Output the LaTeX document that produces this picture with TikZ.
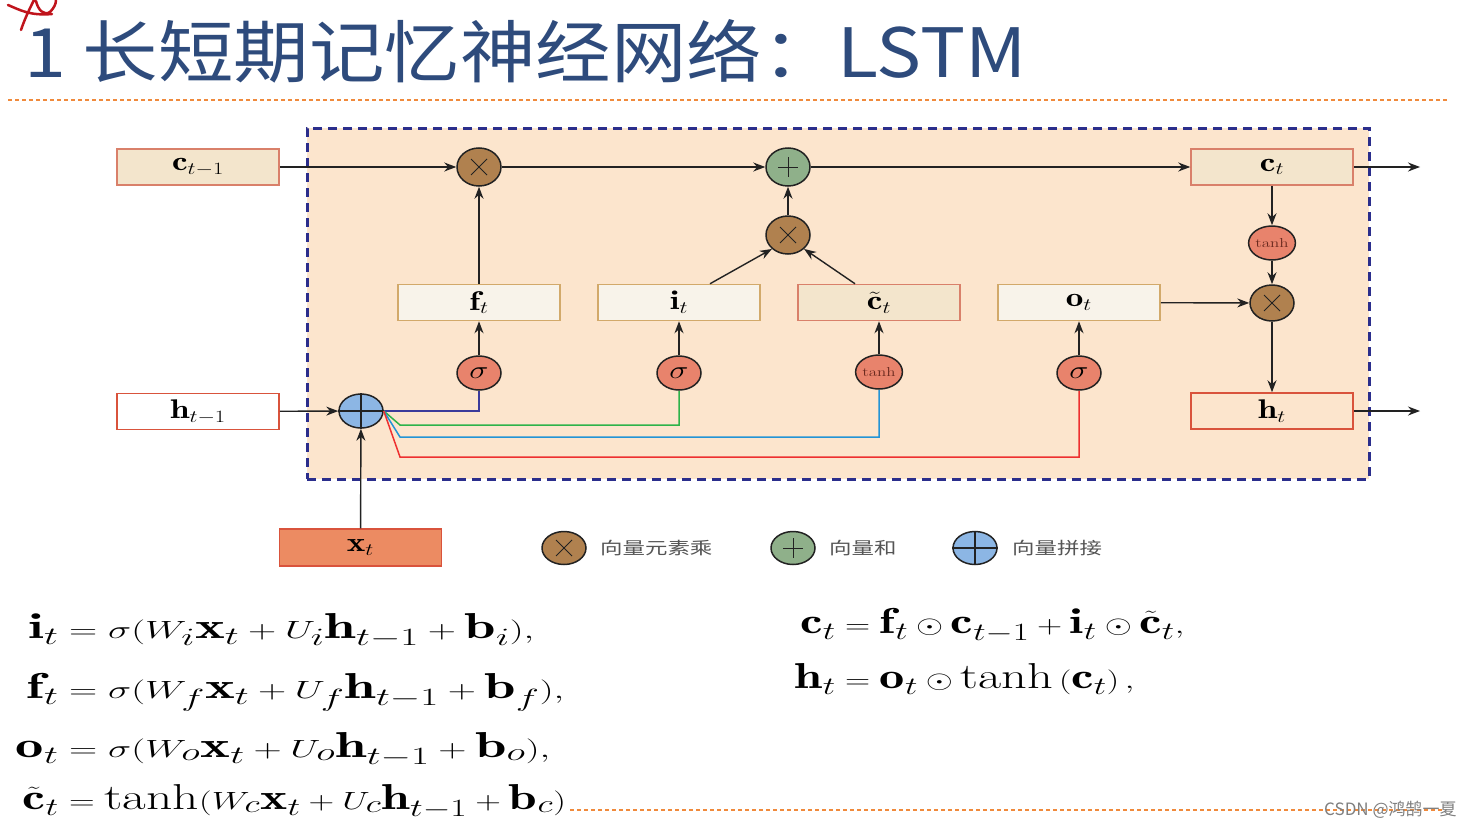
\documentclass[tikz,border=0pt]{standalone}
\usepackage{fontspec}
\usepackage{amsmath}
\usepackage{graphicx}
\newfontfamily\cjk{Noto Sans CJK SC}
\usetikzlibrary{shapes.geometric,arrows.meta}
\definecolor{titleblue}{HTML}{2E4B7C}
\definecolor{dashorange}{HTML}{F08A3C}
\definecolor{peach}{HTML}{FCE5CD}
\definecolor{boxblue}{HTML}{2B2E8C}
\definecolor{cellfill}{HTML}{F3E5CC}
\definecolor{salmonline}{HTML}{D9806A}
\definecolor{gatefill}{HTML}{F8F3EA}
\definecolor{tanline}{HTML}{D2A96A}
\definecolor{redline}{HTML}{D9533C}
\definecolor{xfill}{HTML}{EC8B62}
\definecolor{mulfill}{HTML}{B0814F}
\definecolor{addfill}{HTML}{8FB08A}
\definecolor{catfill}{HTML}{8CB6E4}
\definecolor{actfill}{HTML}{E8836C}
\definecolor{navyline}{HTML}{3B3B9B}
\definecolor{greenline}{HTML}{2DB34A}
\definecolor{cyanline}{HTML}{2394D6}
\definecolor{rline}{HTML}{EE3030}
\definecolor{ink}{HTML}{222222}
\definecolor{legendgray}{HTML}{555555}
\definecolor{tanhtext}{HTML}{6B2A1F}
\definecolor{scribble}{HTML}{C0141C}
\newcommand{\sx}[1]{\scalebox{1.3}[1]{#1}}
\newcommand{\sxl}[1]{\scalebox{1.57}[1]{#1}}
\newcommand{\sxc}[1]{\scalebox{1.43}[1]{#1}}
\newcommand{\sxr}[1]{\scalebox{1.4}[1]{#1}}
\newcommand{\eqfont}{\fontsize{36}{40}\selectfont}
\begin{document}
\begin{tikzpicture}[x=1pt,y=-1pt,
  lbl/.style={font=\fontsize{27}{30}\selectfont},
  cellbox/.style={lbl,draw=salmonline,fill=cellfill,line width=1.5pt,minimum width=162pt,minimum height=36pt,inner sep=0pt},
  gatebox/.style={lbl,draw=tanline,fill=gatefill,line width=1.5pt,minimum width=162pt,minimum height=36pt,inner sep=0pt},
  hbox/.style={lbl,draw=redline,line width=1.5pt,minimum width=162pt,minimum height=36pt,inner sep=0pt},
  op/.style={ellipse,draw=ink,line width=1.5pt,minimum width=44pt,minimum height=38pt,inner sep=0pt},
  act/.style={ellipse,draw=ink,line width=1.5pt,fill=actfill,minimum width=44pt,minimum height=34pt,inner sep=0pt,font=\fontsize{26}{30}\selectfont},
  conn/.style={draw=ink,line width=1.4pt},
  arr/.style={conn,-{Stealth[length=12pt,width=9pt]}},
  sym/.style={draw=ink,line width=1pt},
  eq/.style={font=\eqfont,inner sep=0pt},
  legend/.style={font=\cjk\fontsize{17}{20}\selectfont,text=legendgray,anchor=west,inner sep=0pt}
]
\useasboundingbox (0,0) rectangle (1477,827);
\fill[white] (0,0) rectangle (1477,827);

% title
\node[anchor=base west,inner sep=0pt,text=titleblue,font=\cjk\fontsize{68}{72}\selectfont] (title) at (24,77) {\scalebox{1.11}[1]{1 长短期记忆神经网络：LSTM}};
\draw[scribble,line width=2.5pt,line cap=round] (8,5) .. controls (20,10) and (30,16) .. (52,14)
  (21,30) .. controls (25,18) and (30,8) .. (34,0)
  (36,1) .. controls (38,10) and (44,16) .. (50,12) .. controls (54,8) and (56,4) .. (56,0);

\draw[dashorange,line width=1.2pt,dash pattern=on 4pt off 3pt] (8,100) -- (1447,100);

% main frame
\node[draw=boxblue,fill=peach,line width=3pt,dash pattern=on 9pt off 6pt,minimum width=1062pt,minimum height=351pt,inner sep=0pt] (frame) at (838,303.5) {};

% cell row
\node[cellbox] (cprev) at (198,167) {\sx{$\mathbf{c}_{t-1}$}};
\node[op,fill=mulfill] (m1) at (479,167) {};
\node[op,fill=addfill] (a1) at (788,167) {};
\node[op,fill=mulfill] (m2) at (788,235) {};
\node[cellbox] (ct) at (1272,167) {\sx{$\mathbf{c}_{t}$}};
\node[act,font=\fontsize{13}{15}\selectfont,text=tanhtext] (tc) at (1272,243) {\sx{tanh}};
\node[op,fill=mulfill,minimum height=36pt] (m3) at (1272,303) {};
\node[hbox,fill=peach] (ht) at (1272,411) {\sx{$\mathbf{h}_{t}$}};
\coordinate (cout) at (1420,167);
\coordinate (hout) at (1420,411);

% gates
\node[gatebox] (ft) at (479,302.5) {\sx{$\mathbf{f}_{t}$}};
\node[gatebox] (it) at (679,302.5) {\sx{$\mathbf{i}_{t}$}};
\node[cellbox] (cc) at (879,302.5) {\sx{$\tilde{\mathbf{c}}_{t}$}};
\node[gatebox] (ot) at (1079,302.5) {\sx{$\mathbf{o}_{t}$}};
\node[act] (sf) at (479,373) {\sx{$\sigma$}};
\node[act] (si) at (679,373) {\sx{$\sigma$}};
\node[act,font=\fontsize{13}{15}\selectfont,text=tanhtext] (sc) at (879,372) {\sx{tanh}};
\node[act] (so) at (1079,373) {\sx{$\sigma$}};

% inputs
\node[hbox,fill=white] (hprev) at (198,411.5) {\sx{$\mathbf{h}_{t-1}$}};
\node[op,fill=catfill,minimum height=34pt] (cat) at (361,411) {};
\node[draw=redline,fill=xfill,line width=1.5pt,minimum width=162pt,minimum height=37pt,inner sep=0pt,lbl] (xt) at (360.5,547.5) {\sx{$\mathbf{x}_{t}$}};

% symbols inside operators
\draw[sym] (m1.center) +(-8,-8) -- +(8,8) +(-8,8) -- +(8,-8);
\draw[sym] (m2.center) +(-8,-8) -- +(8,8) +(-8,8) -- +(8,-8);
\draw[sym] (m3.center) +(-8,-8) -- +(8,8) +(-8,8) -- +(8,-8);
\draw[sym] (a1.center) +(-10,0) -- +(10,0) +(0,-10) -- +(0,10);
\draw[sym,line width=1.3pt] (cat.west) -- (cat.east) (cat.north) -- (cat.south);

% connectors
\draw[arr] (cprev) -- (m1);
\draw[arr] (m1) -- (a1);
\draw[arr] (a1) -- (ct);
\draw[arr] (m2) -- (a1);
\draw[arr] (ft) -- (m1);
\draw[arr] (it.north -| 710,0) -- (m2.south west);
\draw[arr] (cc.north -| 855,0) -- (m2.south east);
\draw[arr] (ct) -- (tc);
\draw[arr] (tc) -- (m3);
\draw[arr] (ot) -- (m3);
\draw[arr] (m3) -- (ht);
\draw[arr] (ct.east) -- (cout);
\draw[arr] (ht.east) -- (hout);
\draw[arr] (sf) -- (ft);
\draw[arr] (si) -- (it);
\draw[arr] (sc) -- (cc);
\draw[arr] (so) -- (ot);
\draw[arr] (hprev) -- (cat);
\draw[arr] (xt) -- (cat);

% coloured feeds
\draw[navyline,line width=1.5pt] (cat.east) -- (sf.south |- cat.east) -- (sf.south);
\draw[greenline,line width=1.5pt] (cat.east) -- (400,425) -- (si.south |- 400,425) -- (si.south);
\draw[cyanline,line width=1.5pt] (cat.east) -- (400,437) -- (sc.south |- 400,437) -- (sc.south);
\draw[rline,line width=1.5pt] (cat.east) -- (400,457) -- (so.south |- 400,457) -- (so.south);

% legend
\node[op,fill=mulfill,minimum height=33pt] (lm) at (564,548) {};
\draw[sym] (lm.center) +(-8,-8) -- +(8,8) +(-8,8) -- +(8,-8);
\node[legend] (lmt) at (600,548) {\scalebox{1.32}[1]{向量元素乘}};
\node[op,fill=addfill,minimum height=33pt] (la) at (793,548) {};
\draw[sym] (la.center) +(-10,0) -- +(10,0) +(0,-10) -- +(0,10);
\node[legend] (lat) at (829,548) {\scalebox{1.32}[1]{向量和}};
\node[op,fill=catfill,minimum height=33pt] (lc) at (975,548) {};
\draw[sym,line width=1.3pt] (lc.west) -- (lc.east) (lc.north) -- (lc.south);
\node[legend] (lct) at (1012,548) {\scalebox{1.32}[1]{向量拼接}};

% equations
\node[eq,anchor=base east] (e1l) at (59,638) {\sxl{$\mathbf{i}_t$}};
\node[eq,anchor=base west] (e1r) at (69,638) {\sxl{$=\sigma(W_i\mathbf{x}_t+U_i\mathbf{h}_{t-1}+\mathbf{b}_i),$}};
\node[eq,anchor=base east] (e2l) at (59,698) {\sxl{$\mathbf{f}_t$}};
\node[eq,anchor=base west] (e2r) at (69,698) {\sxl{$=\sigma(W_f\mathbf{x}_t+U_f\mathbf{h}_{t-1}+\mathbf{b}_f),$}};
\node[eq,anchor=base east] (e3l) at (59,757) {\sxl{$\mathbf{o}_t$}};
\node[eq,anchor=base west] (e3r) at (69,757) {\sxl{$=\sigma(W_o\mathbf{x}_t+U_o\mathbf{h}_{t-1}+\mathbf{b}_o),$}};
\node[eq,anchor=base east] (e4l) at (59,809) {\sxc{$\tilde{\mathbf{c}}_t$}};
\node[eq,anchor=base west] (e4r) at (69,809) {\sxc{$=\tanh(W_c\mathbf{x}_t+U_c\mathbf{h}_{t-1}+\mathbf{b}_c)$}};
\node[eq,anchor=base east] (e5l) at (836,633) {\sxr{$\mathbf{c}_t$}};
\node[eq,anchor=base west] (e5r) at (845,633) {\sxr{$=\mathbf{f}_t\odot\mathbf{c}_{t-1}+\mathbf{i}_t\odot\tilde{\mathbf{c}}_t,$}};
\node[eq,anchor=base east] (e6l) at (836,688) {\sxr{$\mathbf{h}_t$}};
\node[eq,anchor=base west] (e6r) at (845,688) {\sxr{$=\mathbf{o}_t\odot\tanh\left(\mathbf{c}_t\right),$}};

% bottom rule and watermark
\draw[dashorange,line width=1.2pt,dash pattern=on 4pt off 3pt] (570,810) -- (1445,810);
\node[anchor=base west,inner sep=0pt,font=\cjk\fontsize{17}{19}\selectfont,text=gray] (wm) at (1324,815) {CSDN @鸿鹄一夏};
\end{tikzpicture}
\end{document}
